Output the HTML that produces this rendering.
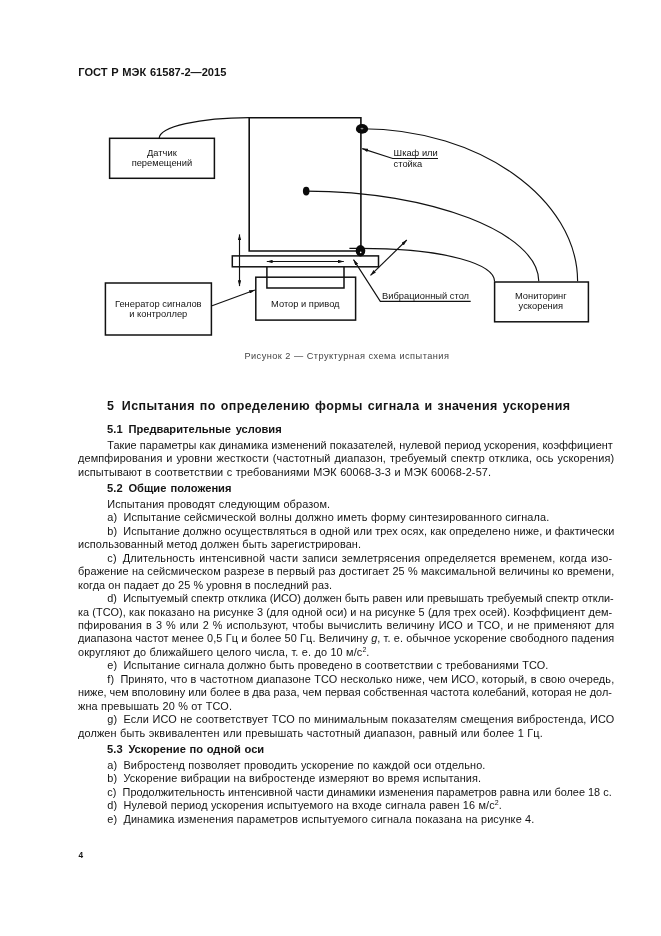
<!DOCTYPE html>
<html lang="ru"><head><meta charset="utf-8"><title>ГОСТ Р МЭК 61587-2—2015</title>
<style>
html,body{margin:0;padding:0;background:#fff;}
body{width:661px;height:936px;position:relative;overflow:hidden;will-change:transform;font-family:"Liberation Sans",sans-serif;color:#141414;}
.t,.h,.h1,.hd,.pn,.cap{position:absolute;white-space:nowrap;text-align:justify;text-align-last:justify;-moz-text-align-last:justify;}
.t{font-size:10.9px;line-height:14px;height:14px;}
.lb{display:inline-block;margin-right:6.2px;}
.h{font-size:11.15px;font-weight:bold;line-height:14px;height:14px;}
.h1{font-size:12.45px;font-weight:bold;line-height:16px;height:16px;letter-spacing:0.4px;}
.hd{font-size:11.1px;font-weight:bold;line-height:14px;height:14px;}
.pn{font-size:8.3px;font-weight:bold;line-height:10px;text-align-last:left;}
.cap{font-size:9.2px;line-height:12px;height:12px;color:#444;letter-spacing:0.47px;text-align-last:left;}
.n{display:inline-block;}
sup{font-size:7px;line-height:0;vertical-align:baseline;position:relative;top:-3.9px;letter-spacing:0;}
svg{position:absolute;left:0;top:0;}
svg text{font-family:"Liberation Sans",sans-serif;font-size:9.33px;fill:#141414;}
</style></head><body>
<div class="hd" style="left:78.3px;top:65px;width:148.1px">ГОСТ Р МЭК 61587-2—2015</div>
<svg width="661" height="936" viewBox="0 0 661 936">
<defs>
<marker id="ah" viewBox="0 0 10 6" refX="10" refY="3" markerWidth="6.2" markerHeight="3.5" markerUnits="userSpaceOnUse" orient="auto-start-reverse"><path d="M0,0 L10,3 L0,6 Z" fill="#111"/></marker>
</defs>
<g fill="none" stroke="#111" stroke-width="1.5">
<!-- cabinet -->
<path d="M360.9,251 L249.2,251 L249.2,117.8 L360.9,117.8 L360.9,251" stroke-width="1.6"/>
<!-- table -->
<rect x="232.3" y="255.9" width="146.2" height="10.9"/>
<!-- coupling -->
<path d="M266.9,267 L266.9,287.9 L344,287.9 L344,267"/>
<!-- motor -->
<rect x="255.8" y="277.2" width="99.8" height="42.9"/>
<!-- boxes -->
<rect x="109.6" y="138.3" width="104.8" height="40"/>
<rect x="105.4" y="283" width="106" height="52"/>
<rect x="494.6" y="282" width="93.8" height="39.8"/>
</g>
<g fill="none" stroke="#111" stroke-width="1.15">
<!-- sensor curve -->
<path d="M159.2,138.3 A90,20.8 0 0 1 249.2,117.5" stroke-width="1.25"/>
<!-- top curve -->
<path d="M362,128.7 C479.7,128.7 577.6,199.2 577.6,281.3"/>
<!-- middle curve -->
<path d="M306.3,191.1 C430.7,191.1 538.8,233.0 538.8,281.3"/>
<!-- bottom curve -->
<path d="M349.4,248.4 L360,248.4 C448.8,248.4 494.6,264.9 494.6,281.5"/>
<!-- leaders -->
<path d="M438,158.5 L392.7,158.5 L362.2,148.6" marker-end="url(#ah)"/>
<path d="M470.7,301.4 L380.3,301.4 L353.5,259.6" marker-end="url(#ah)"/>
<!-- arrows -->
<path d="M211.4,306 L254.9,290" marker-end="url(#ah)"/>
<path d="M239.5,234.4 L239.5,286.1" marker-start="url(#ah)" marker-end="url(#ah)"/>
<path d="M266.8,261.5 L343.8,261.5" marker-start="url(#ah)" marker-end="url(#ah)"/>
<path d="M370.5,275.4 L406.8,240" marker-start="url(#ah)" marker-end="url(#ah)"/>
</g>
<!-- dots -->
<ellipse cx="362" cy="128.9" rx="6.1" ry="4.9" fill="#0a0a0a"/>
<ellipse cx="362" cy="128.6" rx="1.5" ry="0.8" fill="#888"/>
<ellipse cx="306.2" cy="191.1" rx="3.3" ry="4.4" fill="#0a0a0a"/>
<ellipse cx="360.5" cy="250.8" rx="4.8" ry="5.7" fill="#0a0a0a"/>
<ellipse cx="360.7" cy="252.4" rx="0.8" ry="0.8" fill="#fff"/>
<g text-anchor="middle">
<text x="161.9" y="155.7">Датчик</text>
<text x="161.9" y="165.8">перемещений</text>
<text x="158.3" y="306.5">Генератор сигналов</text>
<text x="158.3" y="316.9">и контроллер</text>
<text x="305.3" y="306.8">Мотор и привод</text>
<text x="540.8" y="299.2">Мониторинг</text>
<text x="540.8" y="309.1">ускорения</text>
</g>
<text x="393.6" y="156.2">Шкаф или</text>
<text x="393.6" y="166.8">стойка</text>
<text x="382.1" y="299">Вибрационный стол</text>
</svg>

<div class="cap" style="left:244.4px;top:350px;width:215.4px">Рисунок 2 — Структурная схема испытания</div>
<div class="h1" style="left:107.1px;top:398px;width:463.3px"><span class="n" style="margin-right:7.4px">5</span>Испытания по определению формы сигнала и значения ускорения</div>
<div class="h" style="left:107.1px;top:422px;width:174.6px"><span class="n" style="margin-right:5.8px">5.1</span>Предварительные условия</div>
<div class="h" style="left:107.1px;top:481px;width:124.4px"><span class="n" style="margin-right:5.8px">5.2</span>Общие положения</div>
<div class="h" style="left:107.1px;top:742px;width:157.1px"><span class="n" style="margin-right:5.8px">5.3</span>Ускорение по одной оси</div>
<div class="t" style="left:107.3px;top:438px;width:505.6px;letter-spacing:0.052px">Такие параметры как динамика изменений показателей, нулевой период ускорения, коэффициент</div>
<div class="t" style="left:78.0px;top:451px;width:536.3px;letter-spacing:0.135px">демпфирования и уровни жесткости (частотный диапазон, требуемый спектр отклика, ось ускорения)</div>
<div class="t" style="left:78.0px;top:465px;width:413.2px;letter-spacing:0.135px">испытывают в соответствии с требованиями МЭК 60068-3-3 и МЭК 60068-2-57.</div>
<div class="t" style="left:107.3px;top:497px;width:222.9px;letter-spacing:0.132px">Испытания проводят следующим образом.</div>
<div class="t" style="left:107.3px;top:510px;width:442.1px;letter-spacing:0.129px"><span class="lb">a)</span>Испытание сейсмической волны должно иметь форму синтезированного сигнала.</div>
<div class="t" style="left:107.3px;top:524px;width:507.0px;letter-spacing:0.064px"><span class="lb">b)</span>Испытание должно осуществляться в одной или трех осях, как определено ниже, и фактически</div>
<div class="t" style="left:78.0px;top:537px;width:283.1px;letter-spacing:0.106px">использованный метод должен быть зарегистрирован.</div>
<div class="t" style="left:107.3px;top:551px;width:505.0px;letter-spacing:0.135px"><span class="lb">c)</span>Длительность интенсивной части записи землетрясения определяется временем, когда изо-</div>
<div class="t" style="left:78.0px;top:564px;width:536.3px;letter-spacing:0.105px">бражение на сейсмическом разрезе в первый раз достигает 25 % максимальной величины ко времени,</div>
<div class="t" style="left:78.0px;top:578px;width:254.2px;letter-spacing:0.074px">когда он падает до 25 % уровня в последний раз.</div>
<div class="t" style="left:107.3px;top:591px;width:505.0px"><span class="lb">d)</span>Испытуемый спектр отклика (ИСО) должен быть равен или превышать требуемый спектр откли-</div>
<div class="t" style="left:78.0px;top:605px;width:534.3px;letter-spacing:0.075px">ка (ТСО), как показано на рисунке 3 (для одной оси) и на рисунке 5 (для трех осей). Коэффициент дем-</div>
<div class="t" style="left:78.0px;top:618px;width:536.3px;letter-spacing:0.135px">пфирования в 3 % или 2 % используют, чтобы вычислить величину ИСО и ТСО, и не применяют для</div>
<div class="t" style="left:78.0px;top:631px;width:536.3px;letter-spacing:0.089px">диапазона частот менее 0,5 Гц и более 50 Гц. Величину <i>g</i>, т. е. обычное ускорение свободного падения</div>
<div class="t" style="left:78.0px;top:645px;width:291.5px;letter-spacing:0.135px">округляют до ближайшего целого числа, т. е. до 10 м/с<sup>2</sup>.</div>
<div class="t" style="left:107.3px;top:658px;width:441.1px;letter-spacing:0.106px"><span class="lb">e)</span>Испытание сигнала должно быть проведено в соответствии с требованиями ТСО.</div>
<div class="t" style="left:107.3px;top:672px;width:507.0px;letter-spacing:0.123px"><span class="lb">f)</span>Принято, что в частотном диапазоне ТСО несколько ниже, чем ИСО, который, в свою очередь,</div>
<div class="t" style="left:78.0px;top:685px;width:533.9px;letter-spacing:0.008px">ниже, чем вполовину или более в два раза, чем первая собственная частота колебаний, которая не дол-</div>
<div class="t" style="left:78.0px;top:699px;width:154.1px;letter-spacing:0.135px">жна превышать 20 % от ТСО.</div>
<div class="t" style="left:107.3px;top:712px;width:507.0px;letter-spacing:0.135px"><span class="lb">g)</span>Если ИСО не соответствует ТСО по минимальным показателям смещения вибростенда, ИСО</div>
<div class="t" style="left:78.0px;top:726px;width:464.8px;letter-spacing:0.135px">должен быть эквивалентен или превышать частотный диапазон, равный или более 1 Гц.</div>
<div class="t" style="left:107.3px;top:758px;width:378.2px;letter-spacing:0.124px"><span class="lb">a)</span>Вибростенд позволяет проводить ускорение по каждой оси отдельно.</div>
<div class="t" style="left:107.3px;top:771px;width:373.9px;letter-spacing:0.125px"><span class="lb">b)</span>Ускорение вибрации на вибростенде измеряют во время испытания.</div>
<div class="t" style="left:107.3px;top:785px;width:504.4px"><span class="lb">c)</span>Продолжительность интенсивной части динамики изменения параметров равна или более 18 с.</div>
<div class="t" style="left:107.3px;top:798px;width:394.5px;letter-spacing:0.114px"><span class="lb">d)</span>Нулевой период ускорения испытуемого на входе сигнала равен 16 м/с<sup>2</sup>.</div>
<div class="t" style="left:107.3px;top:812px;width:427.1px;letter-spacing:0.122px"><span class="lb">e)</span>Динамика изменения параметров испытуемого сигнала показана на рисунке 4.</div>
<div class="pn" style="left:78.6px;top:850px;width:12.7px">4</div>
</body></html>
